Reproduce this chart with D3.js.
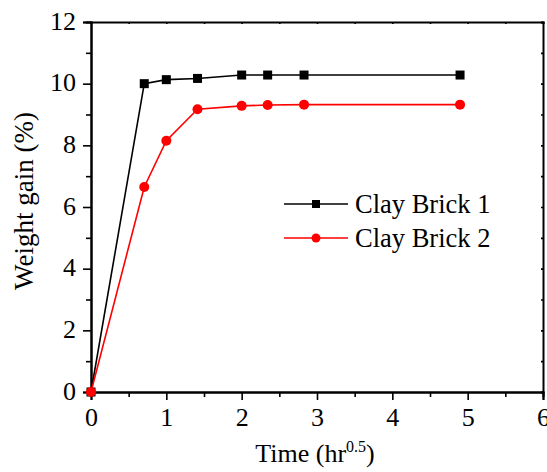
<!DOCTYPE html>
<html lang="en">
<head>
    <meta charset="UTF-8">
    <title>Weight gain vs time</title>
    <script src="https://d3js.org/d3.v7.min.js"></script>
    <style>
        body { margin: 0; background: #fff; }
        svg text { font-family: "Liberation Serif", "Times New Roman", serif; fill: #000; }
    </style>
</head>
<body>
    <div id="chart"></div>
    <script>
// data (x = sqrt of hours)
var times = [0, 0.707, 1, 1.414, 2, 2.345, 2.828, 4.899];
var brick1 = [0, 10.0, 10.13, 10.17, 10.28, 10.28, 10.28, 10.28];
var brick2 = [0, 6.65, 8.15, 9.17, 9.28, 9.31, 9.32, 9.32];
var seriesNames = ["Clay Brick 1", "Clay Brick 2"];
var xTicks = [0, 1, 2, 3, 4, 5, 6];
var yTicks = [0, 2, 4, 6, 8, 10, 12];

var W = 547, H = 472;
var mLeft = 91, mRight = 543, mTop = 22, mBottom = 392;

var svg = d3.select("#chart").append("svg")
    .attr("width", W).attr("height", H);

var x = d3.scaleLinear().domain([0, 6]).range([mLeft, mRight]);
var y = d3.scaleLinear().domain([0, 12]).range([mBottom, mTop]);

// minor ticks (half steps)
var xMinor = d3.range(0.5, 6, 1);
var yMinor = d3.range(1, 12, 2);

var gx = svg.append("g").attr("transform", "translate(0," + mBottom + ")")
    .call(d3.axisBottom(x).tickValues(xTicks).tickFormat(d3.format("d")).tickSize(8).tickPadding(6));
var gxm = svg.append("g").attr("transform", "translate(0," + mBottom + ")")
    .call(d3.axisBottom(x).tickValues(xMinor).tickFormat("").tickSize(5));
var gy = svg.append("g").attr("transform", "translate(" + mLeft + ",0)")
    .call(d3.axisLeft(y).tickValues(yTicks).tickFormat(d3.format("d")).tickSize(8).tickPadding(7));
var gym = svg.append("g").attr("transform", "translate(" + mLeft + ",0)")
    .call(d3.axisLeft(y).tickValues(yMinor).tickFormat("").tickSize(5));

// top and right edges with tiny inward ticks
var gt = svg.append("g").attr("transform", "translate(0," + mTop + ")")
    .call(d3.axisTop(x).tickValues(xTicks.concat(xMinor)).tickFormat("").tickSize(-2));
var gr = svg.append("g").attr("transform", "translate(" + mRight + ",0)")
    .call(d3.axisRight(y).tickValues(yTicks.concat(yMinor)).tickFormat("").tickSize(-2));

[gx, gxm, gy, gym, gt, gr].forEach(function(g) {
    g.select(".domain").attr("stroke", "#000").attr("stroke-width", 2);
    g.selectAll(".tick line").attr("stroke", "#000").attr("stroke-width", 1.6);
});
[gx, gy].forEach(function(g) {
    g.attr("font-size", 26).attr("font-family", "Liberation Serif");
});
gy.selectAll(".tick text").attr("dy", "0.28em");
gx.selectAll(".tick text").attr("dy", "0.78em");

// axis titles
svg.append("text")
    .attr("x", (mLeft + mRight) / 2 - 2).attr("y", 462)
    .attr("text-anchor", "middle").attr("font-size", 26)
    .html('Time (hr<tspan dy="-10" font-size="16">0.5</tspan><tspan dy="10">)</tspan>');

svg.append("text")
    .attr("transform", "translate(33,201) rotate(-90)")
    .attr("text-anchor", "middle").attr("font-size", 27)
    .text("Weight gain (%)");

var line = d3.line()
    .x(function(d, i) { return x(times[i]); })
    .y(function(d) { return y(d); });

var colors = ["#000000", "#ff0000"];
var series = [brick1, brick2];

series.forEach(function(vals, k) {
    svg.append("path").datum(vals)
        .attr("fill", "none").attr("stroke", colors[k]).attr("stroke-width", 1.6)
        .attr("d", line);
});

// markers: squares for brick 1, circles for brick 2
svg.selectAll(".sq").data(brick1).enter().append("rect")
    .attr("x", function(d, i) { return x(times[i]) - 4.5; })
    .attr("y", function(d) { return y(d) - 4.5; })
    .attr("width", 9).attr("height", 9).attr("fill", "#000");

svg.selectAll(".ci").data(brick2).enter().append("circle")
    .attr("cx", function(d, i) { return x(times[i]); })
    .attr("cy", function(d) { return y(d); })
    .attr("r", 5).attr("fill", "#ff0000");

// legend
var legY = [204, 238];
seriesNames.forEach(function(name, k) {
    var g = svg.append("g");
    g.append("line").attr("x1", 284).attr("x2", 348)
        .attr("y1", legY[k]).attr("y2", legY[k])
        .attr("stroke", colors[k]).attr("stroke-width", 1.6);
    if (k === 0) {
        g.append("rect").attr("x", 316 - 4).attr("y", legY[k] - 4)
            .attr("width", 8).attr("height", 8).attr("fill", "#000");
    } else {
        g.append("circle").attr("cx", 316).attr("cy", legY[k]).attr("r", 4.5).attr("fill", "#ff0000");
    }
    g.append("text").attr("x", 355).attr("y", legY[k] + 9)
        .attr("font-size", 26.5).text(name);
});
    </script>
</body>
</html>
